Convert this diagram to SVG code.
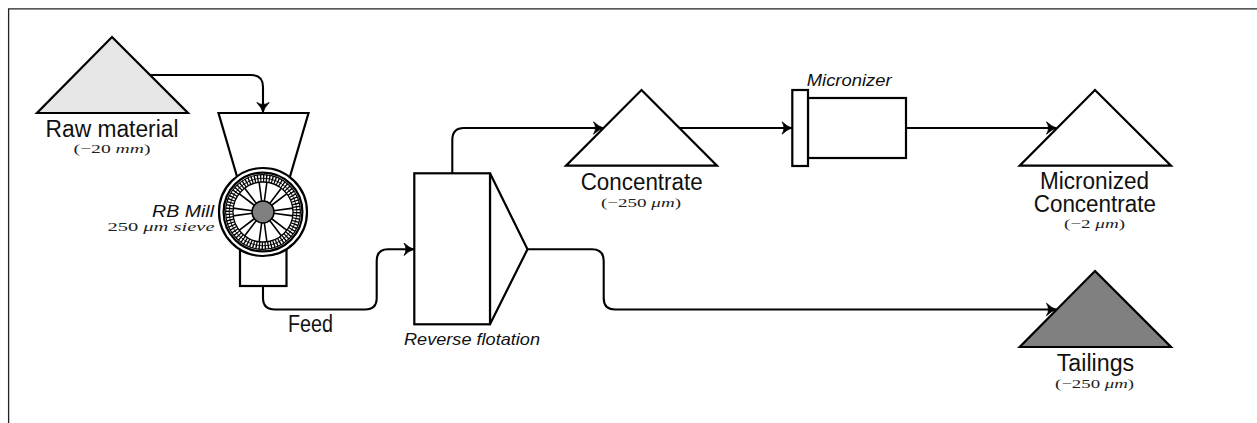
<svg xmlns="http://www.w3.org/2000/svg" xmlns:xlink="http://www.w3.org/1999/xlink" width="1257" height="423" viewBox="0 0 1257 423">
<style>
.s{stroke:#000;stroke-width:2.2;stroke-linejoin:miter;fill:#fff}
.c{stroke:#000;stroke-width:2.1;fill:none}
.l{font-family:"Liberation Sans",Arimo,sans-serif;font-size:23px;fill:#111}
.i{font-family:"Liberation Sans",Arimo,sans-serif;font-style:italic;font-size:17px;fill:#111}
.m{font-family:"Liberation Serif","DejaVu Serif",serif;font-size:12.5px;fill:#222}
.m tspan{font-style:italic}
</style>
<defs>
<marker id="a" markerUnits="userSpaceOnUse" markerWidth="14" markerHeight="14" refX="11" refY="6" orient="auto" overflow="visible">
<path d="M1 -0.2Q6 4.6 11 6Q6 7.4 1 12.2Q5 6 1 -0.2Z" fill="#000" stroke="#000" stroke-width="0.8" stroke-linejoin="round"/>
</marker>
<path id="sp" d="M10.5 -1.3L30 -3.9M10.5 1.3L30 3.9" stroke="#000" stroke-width="1.6" fill="none"/>
</defs>
<rect width="1257" height="423" fill="#fff"/>
<path id="frame" d="M1257 8.9H8.6V423" fill="none" stroke="#222" stroke-width="1.3"/>

<g id="connectors">
<path class="c" d="M150 75H251Q263 75 263 87V112.5" marker-end="url(#a)"/>
<path class="c" d="M263 286V298Q263 309.5 275 309.5H365Q376.7 309.5 376.7 298V261Q376.7 249.3 388 249.3H414" marker-end="url(#a)"/>
<path class="c" d="M452.3 173V140Q452.3 128 464 128H603.5" marker-end="url(#a)"/>
<path class="c" d="M680 128H792" marker-end="url(#a)"/>
<path class="c" d="M906 128H1056.5" marker-end="url(#a)"/>
<path class="c" d="M527.5 249.3H592Q603.7 249.3 603.7 261V298Q603.7 309.5 615 309.5H1056.5" marker-end="url(#a)"/>
</g>

<g id="raw-material">
<path class="s" style="fill:#e6e6e6" d="M112 37L188 113H37Z"/>
<text class="l" x="45.5" y="137" textLength="133" lengthAdjust="spacingAndGlyphs">Raw material</text>
<text class="m" x="73.5" y="153" textLength="77" lengthAdjust="spacingAndGlyphs">(−20 <tspan>mm</tspan>)</text>
</g>

<g id="rb-mill">
<path class="s" d="M218.5 113H308.5L289 180H238Z"/>
<rect class="s" x="240" y="240" width="46.5" height="46"/>
<circle class="s" cx="263" cy="212" r="44"/>
<circle class="s" cx="263" cy="212" r="39.4"/>
<circle cx="263" cy="212" r="33.8" fill="none" stroke="#000" stroke-width="7.5" pathLength="72" stroke-dasharray="0.45 0.55"/>
<circle cx="263" cy="212" r="37.4" fill="none" stroke="#000" stroke-width="1.1"/>
<circle cx="263" cy="212" r="33.8" fill="none" stroke="#000" stroke-width="0.9"/>
<circle cx="263" cy="212" r="30" fill="#fff" stroke="#000" stroke-width="1.3"/>
<g transform="translate(263 212)">
<use xlink:href="#sp" href="#sp"/>
<use xlink:href="#sp" href="#sp" transform="rotate(45)"/>
<use xlink:href="#sp" href="#sp" transform="rotate(90)"/>
<use xlink:href="#sp" href="#sp" transform="rotate(135)"/>
<use xlink:href="#sp" href="#sp" transform="rotate(180)"/>
<use xlink:href="#sp" href="#sp" transform="rotate(225)"/>
<use xlink:href="#sp" href="#sp" transform="rotate(270)"/>
<use xlink:href="#sp" href="#sp" transform="rotate(315)"/>
</g>
<circle cx="263" cy="212" r="11" fill="#808080" stroke="#000" stroke-width="1.5"/>
<text class="i" x="152" y="217" textLength="62" lengthAdjust="spacingAndGlyphs">RB Mill</text>
<text class="m" x="107.5" y="231" textLength="107" lengthAdjust="spacingAndGlyphs">250 <tspan>μm sieve</tspan></text>
</g>

<g id="feed">
<text class="l" x="288" y="332" textLength="45" lengthAdjust="spacingAndGlyphs">Feed</text>
</g>

<g id="reverse-flotation">
<path class="s" d="M490 173.3L527.5 249.3L490 324.3Z"/>
<rect class="s" x="414.3" y="173.3" width="75.7" height="151"/>
<text class="i" x="404" y="345" textLength="136" lengthAdjust="spacingAndGlyphs">Reverse flotation</text>
</g>

<g id="concentrate">
<path class="s" d="M641.5 90L717 165.7H566Z"/>
<text class="l" x="580.7" y="190" textLength="122" lengthAdjust="spacingAndGlyphs">Concentrate</text>
<text class="m" x="601" y="206.7" textLength="80" lengthAdjust="spacingAndGlyphs">(−250 <tspan>μm</tspan>)</text>
</g>

<g id="micronizer">
<rect class="s" x="808" y="98" width="98" height="60"/>
<rect class="s" x="792.3" y="90" width="15.7" height="76"/>
<text class="i" x="806.7" y="85.5" textLength="85" lengthAdjust="spacingAndGlyphs">Micronizer</text>
</g>

<g id="micronized-concentrate">
<path class="s" d="M1095 90L1171 165.7H1019.7Z"/>
<text class="l" x="1040" y="189.3" textLength="109" lengthAdjust="spacingAndGlyphs">Micronized</text>
<text class="l" x="1033.7" y="211.7" textLength="122.3" lengthAdjust="spacingAndGlyphs">Concentrate</text>
<text class="m" x="1064" y="228" textLength="61" lengthAdjust="spacingAndGlyphs">(−2 <tspan>μm</tspan>)</text>
</g>

<g id="tailings">
<path class="s" style="fill:#808080" d="M1095 271L1171 347H1019.7Z"/>
<text class="l" x="1056.7" y="370.7" textLength="77.5" lengthAdjust="spacingAndGlyphs">Tailings</text>
<text class="m" x="1055" y="387.7" textLength="79" lengthAdjust="spacingAndGlyphs">(−250 <tspan>μm</tspan>)</text>
</g>
</svg>
